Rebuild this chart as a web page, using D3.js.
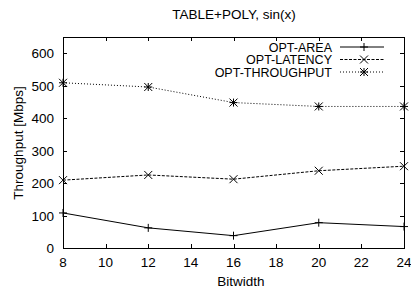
<!DOCTYPE html>
<html>
<head>
<meta charset="utf-8">
<script src="https://cdn.jsdelivr.net/npm/d3@7"></script>
<style>
  body { margin: 0; background: #fff; }
  text { font-family: "Liberation Sans", Arial, sans-serif; fill: #000; }
</style>
</head>
<body>
<div id="chart"></div>
<script>
const bitwidths = [8, 12, 16, 20, 24]
const optArea = [108, 62, 38, 78, 66]
const optLatency = [209, 225, 212, 238, 252]
const optThroughput = [509, 496, 448, 436, 436]
const xTicks = [8, 10, 12, 14, 16, 18, 20, 22, 24]
const yTicks = [0, 100, 200, 300, 400, 500, 600]

const width = 411, height = 291
let margins = { top: 37, right: 7, bottom: 43, left: 63 }
const fs = '13.5px'

const svg = d3.select('#chart').append('svg')
  .attr('width', width)
  .attr('height', height)

const x = d3.scaleLinear().domain([8, 24]).range([margins.left, width - margins.right])
const y = d3.scaleLinear().domain([0, 650]).range([height - margins.bottom, margins.top])

const series = [
  { name: 'OPT-AREA', values: optArea, dash: null, marker: 'plus' },
  { name: 'OPT-LATENCY', values: optLatency, dash: '3,1.5', marker: 'cross' },
  { name: 'OPT-THROUGHPUT', values: optThroughput, dash: '1,2', marker: 'star' }
]

// ticks, gnuplot style: inward, mirrored
const tickLen = 4
const axes = svg.append('g').attr('stroke', '#000').attr('stroke-width', 1)
xTicks.forEach(t => {
  const px = Math.round(x(t)) + 0.5
  axes.append('line').attr('x1', px).attr('x2', px)
    .attr('y1', y(0)).attr('y2', y(0) - tickLen)
  axes.append('line').attr('x1', px).attr('x2', px)
    .attr('y1', y(650)).attr('y2', y(650) + tickLen)
})
yTicks.forEach(t => {
  const py = Math.round(y(t)) + 0.5
  axes.append('line').attr('x1', x(8)).attr('x2', x(8) + tickLen)
    .attr('y1', py).attr('y2', py)
  axes.append('line').attr('x1', x(24)).attr('x2', x(24) - tickLen)
    .attr('y1', py).attr('y2', py)
})

svg.append('rect')
  .attr('x', Math.round(x(8)) + 0.5).attr('y', Math.round(y(650)) + 0.5)
  .attr('width', Math.round(x(24)) - Math.round(x(8)))
  .attr('height', Math.round(y(0)) - Math.round(y(650)))
  .attr('fill', 'none').attr('stroke', '#000')

svg.append('g').selectAll('text')
  .data(xTicks).enter().append('text')
  .attr('x', d => x(d))
  .attr('y', y(0) + 19)
  .attr('text-anchor', 'middle')
  .style('font-size', fs)
  .text(d => d)

svg.append('g').selectAll('text')
  .data(yTicks).enter().append('text')
  .attr('x', x(8) - 9)
  .attr('y', d => y(d) + 5)
  .attr('text-anchor', 'end')
  .style('font-size', fs)
  .text(d => d)

svg.append('text')
  .attr('x', 234).attr('y', 19)
  .attr('text-anchor', 'middle')
  .style('font-size', fs)
  .text('TABLE+POLY, sin(x)')

svg.append('text')
  .attr('x', 241).attr('y', 286)
  .attr('text-anchor', 'middle')
  .style('font-size', fs)
  .text('Bitwidth')

svg.append('text')
  .attr('transform', 'translate(23,143) rotate(-90)')
  .attr('text-anchor', 'middle')
  .style('font-size', fs)
  .text('Throughput [Mbps]')

function drawMarker(g, kind, cx, cy) {
  const s = 4
  const p = g.append('path').attr('stroke', '#000').attr('fill', 'none').attr('stroke-width', 1)
  if (kind === 'plus') {
    p.attr('d', `M${cx - s},${cy}H${cx + s}M${cx},${cy - s}V${cy + s}`)
  } else if (kind === 'cross') {
    p.attr('d', `M${cx - s},${cy - s}L${cx + s},${cy + s}M${cx - s},${cy + s}L${cx + s},${cy - s}`)
  } else {
    p.attr('d', `M${cx - s},${cy}H${cx + s}M${cx},${cy - s}V${cy + s}M${cx - s},${cy - s}L${cx + s},${cy + s}M${cx - s},${cy + s}L${cx + s},${cy - s}`)
  }
}

const lineGen = d3.line().x(d => x(d.bw)).y(d => y(d.v))

series.forEach((s, si) => {
  const pts = bitwidths.map((bw, i) => ({ bw: bw, v: s.values[i] }))
  svg.append('path')
    .datum(pts)
    .attr('d', lineGen)
    .attr('fill', 'none')
    .attr('stroke', '#000')
    .attr('stroke-width', 1)
    .attr('stroke-dasharray', s.dash)
  const mg = svg.append('g')
  pts.forEach(p => drawMarker(mg, s.marker, x(p.bw), y(p.v)))

  // legend entry
  const ly = 47 + si * 12.5
  svg.append('text')
    .attr('x', 332).attr('y', ly + 4.5)
    .attr('text-anchor', 'end')
    .style('font-size', '12.5px')
    .text(s.name)
  svg.append('line')
    .attr('x1', 340).attr('x2', 384)
    .attr('y1', ly).attr('y2', ly)
    .attr('stroke', '#000')
    .attr('stroke-dasharray', s.dash)
  drawMarker(svg, s.marker, 364, ly)
})
</script>
</body>
</html>
